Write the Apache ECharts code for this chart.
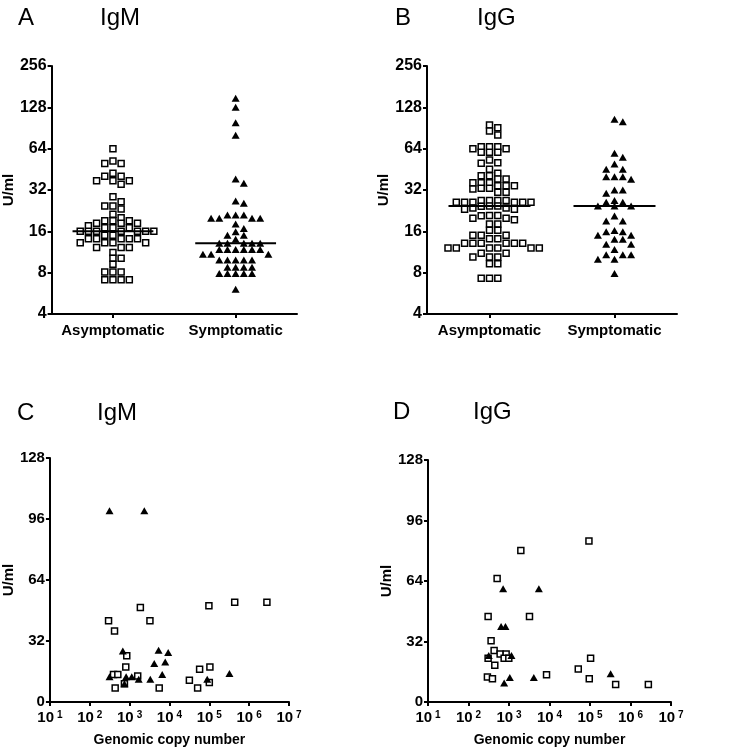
<!DOCTYPE html>
<html><head><meta charset="utf-8">
<script src="https://cdn.jsdelivr.net/npm/echarts@6/dist/echarts.min.js"></script>
<style>html,body{margin:0;padding:0;background:#fff}#c{width:729px;height:754px}</style>
</head><body><div id="c"></div>
<script>
// ---------- data ----------
const categories = ['Asymptomatic', 'Symptomatic'];
const log2Ticks = [4, 8, 16, 32, 64, 128, 256];
const uTicks = [0, 32, 64, 96, 128];
const copyTicks = [10, 100, 1e3, 1e4, 1e5, 1e6, 1e7];

// Panel A – IgM (U/ml)
const igmAsym = [64, 52, 50, 50, 42.3, 40.3, 40.3, 37.4, 37.4, 37.4, 35.2,
  28.6, 26.3, 24.5, 24.5, 23.3, 21.3, 20.1, 19.1, 19.1, 19.1, 18.3, 18.3, 18.3, 17.6, 17.0, 17.0, 17.0,
  16, 16, 16, 16, 16, 16, 16, 15.0, 15.0, 14.1, 14.1, 14.1, 14.1, 14.1, 13.2, 13.2, 13.2, 13.2,
  12.2, 12.2, 12.2, 11.2, 10.2, 10.2, 9.2, 8.1, 8.1, 8.1, 7.1, 7.1, 7.1, 7.1];
const igmSym = [149, 128, 99, 80, 38.5, 35.8, 26.6, 25.6,
  21, 21, 21, 19.9, 19.9, 19.9, 19.9, 18.1, 16.8, 15.9, 15, 15, 14,
  13.1, 13.1, 13.1, 13.1, 13.1, 11.8, 11.8, 11.8, 11.8, 11.8, 11.8, 10.9, 10.9, 10.9,
  9.9, 9.9, 9.9, 9.9, 9.9, 8.75, 8.75, 8.75, 8.75, 7.9, 7.9, 7.9, 7.9, 7.9, 6.05];

// Panel B – IgG (U/ml)
const iggAsym = [95.2, 91, 86.1, 80.4, 66.1, 66.1, 66.1, 63.9, 63.9, 60.3, 60.3, 60.3,
  53, 50.5, 50.1, 45.3, 42.3, 40.7, 40.7, 38.5, 38.5, 36.2, 36.2, 36.2,
  34.4, 34.4, 34.4, 33, 33, 32.6, 30.8, 30.8,
  26.8, 26.8, 26.8, 26.8, 26.1, 26.1, 26.1, 26.1, 26.1, 26.1,
  24.5, 24.5, 24.4, 23.7, 23.7, 23.2, 23.2,
  20.9, 20.9, 20.8, 19.9, 19.9, 19.4, 18.1, 18.1, 16.3, 16.3, 15.0, 15.0, 15.0,
  14.1, 14.1, 13.1, 13.1, 13.1, 13.1, 13.1, 13.1, 12.1, 12.1, 12.1, 12.1, 12.1, 12.1,
  11.1, 11.1, 10.4, 10.4, 10.4, 9.3, 9.3, 7.3, 7.3, 7.3];
const iggSym = [104.7, 100.6, 59.2, 55.4, 49.5, 45.3, 45.3, 40, 40, 40, 38.3, 32, 32, 30.3,
  26.8, 26.1, 26.1, 24.5, 24.5, 24.5, 20.7, 19, 19, 16.2, 15.9, 15.9, 15, 15, 14, 14,
  12.9, 12.9, 11.8, 10.8, 10.8, 10.8, 10, 10, 7.9];

// Panel C – IgM vs genomic copy number
const cAsymCopies = [296, 418, 1860, 3236, 848, 801, 394, 506, 434, 741, 1596, 5530, 31600, 50900, 57100, 97700, 103500, 100000, 434000, 2790000];
const cAsymU      = [42.6, 37.3, 49.6, 42.6, 24.2, 18.4, 14.4, 14.4, 7.4, 9.6, 13.7, 7.4, 11.4, 7.4, 17.2, 50.5, 18.4, 10.2, 52.3, 52.3];
const cSymCopies  = [313, 2339, 675, 313, 741, 817, 1130, 1690, 3304, 5330, 9290, 4150, 7820, 6580, 88700, 320000];
const cSymU       = [100.3, 100.3, 26.8, 13.2, 9.6, 13.2, 13.2, 11.9, 11.9, 27.2, 26.0, 20.2, 21.0, 14.4, 11.9, 14.9];

// Panel D – IgG vs genomic copy number
const dAsymCopies = [1960, 94200, 509, 305, 3206, 361, 429, 305, 604, 850, 759, 989, 446, 293, 390, 8450, 51300, 103500, 95900, 430000, 2760000];
const dAsymU      = [80.1, 85.2, 65.3, 45.2, 45.2, 32.4, 27.3, 23.2, 25.4, 25.4, 23.2, 23.2, 19.4, 13.2, 12.3, 14.4, 17.4, 23.2, 12.3, 9.2, 9.2];
const dSymCopies  = [716, 5460, 638, 818, 316, 1150, 1047, 759, 4100, 323000];
const dSymU       = [59.9, 59.9, 40.0, 40.0, 24.6, 24.6, 13.0, 10.0, 13.0, 15.0];

// ---------- layout ----------
const FONT = '"Liberation Sans", Arial, Helvetica, sans-serif';
const G = [
  {left: 48,  top: 66,  width: 249, height: 248},
  {left: 427, top: 66,  width: 250, height: 248},
  {left: 48,  top: 458, width: 241, height: 244},
  {left: 428, top: 460, width: 243, height: 242}
];
const X_SPAN = 4;          // category value-axis span (categories at 1 and 3)
const SLOT_PX = 8.3;       // horizontal step of the swarm
const MIN_DY = 5.3;        // px: vertical distance below which points collide
const MEDIAN_HALF_PX = 41; // half width of the median bar

function swarm(values, center, grid) {
  const pxPerX = grid.width / X_SPAN;
  const pxPerLog = grid.height / Math.log2(log2Ticks[log2Ticks.length - 1] / log2Ticks[0]);
  const order = values.map((v, i) => i).sort((a, b) => values[b] - values[a]);
  const placed = [];
  const out = [];
  for (const i of order) {
    const y = Math.log2(values[i]) * pxPerLog;
    let s = 0;
    for (let n = 0; n < 200; n++) {
      s = n === 0 ? 0 : (n % 2 ? (n + 1) / 2 : -n / 2);
      if (!placed.some(p => p.s === s && Math.abs(p.y - y) < MIN_DY)) break;
    }
    placed.push({s, y});
    out.push([center + s * SLOT_PX / pxPerX, values[i]]);
  }
  return {points: out, half: MEDIAN_HALF_PX / pxPerX};
}
function median(a) {
  const s = a.slice().sort((x, y) => x - y);
  const m = s.length >> 1;
  return s.length % 2 ? s[m] : (s[m - 1] + s[m]) / 2;
}

const axisLineStyle = {show: true, lineStyle: {color: '#000', width: 2}};
const tickStyle = {show: true, length: 4, lineStyle: {color: '#000', width: 2}};
const labelBold = {color: '#000', fontFamily: FONT, fontWeight: 'bold', fontSize: 15};

function catX(gi) {
  return {
    type: 'value', gridIndex: gi, min: 0, max: X_SPAN,
    axisLine: axisLineStyle,
    axisTick: Object.assign({customValues: [1, 3]}, tickStyle),
    axisLabel: Object.assign({customValues: [1, 3], margin: 9,
      formatter: v => categories[Math.round((v - 1) / 2)]}, labelBold),
    splitLine: {show: false}
  };
}
function log2Y(gi, gap) {
  return {
    type: 'log', logBase: 2, gridIndex: gi, min: 4, max: 256, splitNumber: 6,
    name: 'U/ml', nameLocation: 'middle', nameGap: gap, nameRotate: 90,
    nameTextStyle: {color: '#000', fontFamily: FONT, fontWeight: 'bold', fontSize: 15},
    axisLine: axisLineStyle,
    axisTick: Object.assign({customValues: log2Ticks}, tickStyle),
    axisLabel: Object.assign({customValues: log2Ticks, margin: 5, showMinLabel: true, showMaxLabel: true,
      formatter: v => String(Math.round(v))}, labelBold, {fontSize: 16}),
    splitLine: {show: false}, minorTick: {show: false}
  };
}
function copyX(gi) {
  return {
    type: 'log', logBase: 10, gridIndex: gi, min: 10, max: 1e7, splitNumber: 6,
    name: 'Genomic copy number', nameLocation: 'middle', nameGap: 31,
    nameTextStyle: {color: '#000', fontFamily: FONT, fontWeight: 'bold', fontSize: 14},
    axisLine: axisLineStyle,
    axisTick: Object.assign({customValues: copyTicks}, tickStyle),
    axisLabel: Object.assign({customValues: copyTicks, margin: 8, showMinLabel: true, showMaxLabel: true,
      formatter: v => '10{s|' + Math.round(Math.log10(v)) + '}',
      rich: {s: {fontSize: 10, fontWeight: 'bold', fontFamily: FONT, color: '#000', verticalAlign: 'top', padding: [0, 0, 0, 3]}}
    }, labelBold),
    splitLine: {show: false}
  };
}
function linY(gi, gap) {
  return {
    type: 'value', gridIndex: gi, min: 0, max: 128, interval: 32,
    name: 'U/ml', nameLocation: 'middle', nameGap: gap, nameRotate: 90,
    nameTextStyle: {color: '#000', fontFamily: FONT, fontWeight: 'bold', fontSize: 15},
    axisLine: axisLineStyle, axisTick: tickStyle,
    axisLabel: Object.assign({margin: 5, showMinLabel: true, showMaxLabel: true}, labelBold),
    splitLine: {show: false}
  };
}

const sqStyle = {symbol: 'rect', symbolSize: 6, itemStyle: {color: '#fff', borderColor: '#000', borderWidth: 1.5, opacity: 1}};
const triStyle = {symbol: 'triangle', symbolSize: [8, 7], itemStyle: {color: '#000', opacity: 1}};

const series = [];
function addDotPlot(gi, asym, sym) {
  const a = swarm(asym, 1, G[gi]);
  const s = swarm(sym, 3, G[gi]);
  series.push(Object.assign({type: 'scatter', xAxisIndex: gi, yAxisIndex: gi, data: a.points, silent: true}, sqStyle));
  series.push(Object.assign({type: 'scatter', xAxisIndex: gi, yAxisIndex: gi, data: s.points, silent: true}, triStyle));
  const ma = median(asym), ms = median(sym);
  series.push({type: 'line', xAxisIndex: gi, yAxisIndex: gi, symbol: 'none', silent: true, z: 5,
    lineStyle: {color: '#000', width: 2}, data: [[1 - a.half, ma], [1 + a.half, ma]]});
  series.push({type: 'line', xAxisIndex: gi, yAxisIndex: gi, symbol: 'none', silent: true, z: 5,
    lineStyle: {color: '#000', width: 2}, data: [[3 - s.half, ms], [3 + s.half, ms]]});
}
function addXY(gi, ax, ay, sx, sy) {
  series.push(Object.assign({type: 'scatter', xAxisIndex: gi, yAxisIndex: gi, silent: true,
    data: ax.map((x, i) => [x, ay[i]])}, sqStyle));
  series.push(Object.assign({type: 'scatter', xAxisIndex: gi, yAxisIndex: gi, silent: true,
    data: sx.map((x, i) => [x, sy[i]])}, triStyle));
}
addDotPlot(0, igmAsym, igmSym);
addDotPlot(1, iggAsym, iggSym);
addXY(2, cAsymCopies, cAsymU, cSymCopies, cSymU);
addXY(3, dAsymCopies, dAsymU, dSymCopies, dSymU);

function title(text, x, y) {
  return {type: 'text', left: x, top: y, style: {text, fill: '#000', font: '24px ' + FONT}};
}

const chart = echarts.init(document.getElementById('c'), null, {renderer: 'canvas'});
chart.setOption({
  animation: false,
  backgroundColor: '#fff',
  grid: G.map(g => Object.assign({containLabel: false}, g)),
  xAxis: [catX(0), catX(1), copyX(2), copyX(3)],
  yAxis: [log2Y(0, 31), log2Y(1, 28), linY(2, 28), linY(3, 28)],
  series,
  graphic: [
    title('A', 18, 6), title('IgM', 100, 6),
    title('B', 395, 6), title('IgG', 477, 6),
    title('C', 17, 401), title('IgM', 97, 401),
    title('D', 393, 400), title('IgG', 473, 400)
  ]
});
</script></body></html>
